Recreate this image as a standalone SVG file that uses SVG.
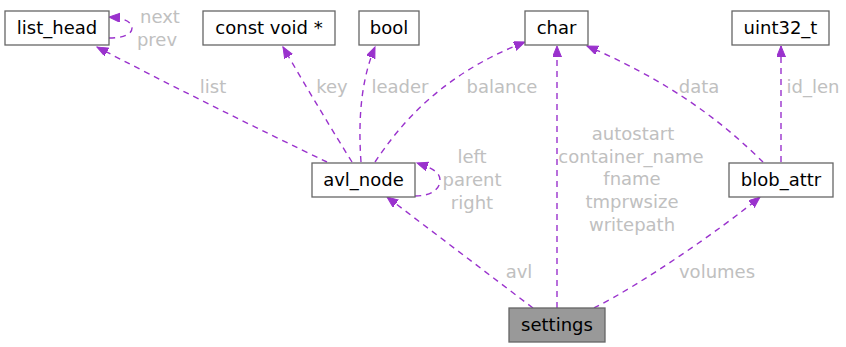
<svg xmlns="http://www.w3.org/2000/svg" width="846" height="347" viewBox="0 0 846 347">
  <style>
    .node rect { fill: #ffffff; stroke: #666666; stroke-width: 1.3; }
    .node.main rect { fill: #999999; }
    .node text { font-family: "DejaVu Sans", sans-serif; font-size: 18px; fill: #000000; text-anchor: middle; }
    .edge { fill: none; stroke: #9a32cd; stroke-width: 1.4; stroke-dasharray: 6,5; marker-end: url(#arrow); }
    .lbl { font-family: "DejaVu Sans", sans-serif; font-size: 18px; fill: #c0c0c0; text-anchor: middle; }
  </style>
  <defs>
    <marker id="arrow" markerUnits="userSpaceOnUse" markerWidth="14" markerHeight="12" refX="11" refY="4.5" orient="auto">
      <path d="M0,0 L11,4.5 L0,9 Z" fill="#9a32cd" stroke="#9a32cd" stroke-width="1"/>
    </marker>
  </defs>

  <rect width="846" height="347" fill="#ffffff"/>

  <g id="connectors">
    <!-- list_head self reference -->
    <path class="edge" d="M109,38 C122,38 132,35 132,28 C132,22 124,18 109,17"/>
    <text class="lbl" x="160" y="23">next</text>
    <text class="lbl" x="157" y="46">prev</text>

    <!-- avl_node members -->
    <path class="edge" d="M327,162 C260,130 160,80 97,47"/>
    <text class="lbl" x="213" y="93">list</text>
    <path class="edge" d="M352,162 C335,135 305,85 283,47"/>
    <text class="lbl" x="332" y="93">key</text>
    <path class="edge" d="M361,162 C358,120 361,80 375,47"/>
    <text class="lbl" x="400" y="93">leader</text>
    <path class="edge" d="M375,162 C400,125 440,75 525,42"/>
    <text class="lbl" x="502" y="93">balance</text>

    <!-- avl_node self reference -->
    <path class="edge" d="M415,196 C430,196 440,190 440,180 C440,172 432,168 417,163"/>
    <text class="lbl" x="472" y="163">left</text>
    <text class="lbl" x="472" y="186">parent</text>
    <text class="lbl" x="472" y="209">right</text>

    <!-- blob_attr members -->
    <path class="edge" d="M763,162 C740,140 690,90 587,46"/>
    <text class="lbl" x="699" y="93">data</text>
    <path class="edge" d="M781,162 L781,46"/>
    <text class="lbl" x="813" y="93">id_len</text>

    <!-- settings members -->
    <path class="edge" d="M557,308 L557,46"/>
    <text class="lbl" x="633" y="140">autostart</text>
    <text class="lbl" x="631" y="163">container_name</text>
    <text class="lbl" x="632" y="185">fname</text>
    <text class="lbl" x="632" y="208">tmprwsize</text>
    <text class="lbl" x="632" y="231">writepath</text>
    <path class="edge" d="M533,308 L387,197"/>
    <text class="lbl" x="519" y="278">avl</text>
    <path class="edge" d="M594,308 C640,285 720,230 760,197"/>
    <text class="lbl" x="717" y="278">volumes</text>
  </g>

  <g id="list_head" class="node">
    <rect x="5" y="11" width="104" height="34"/>
    <text x="57" y="34">list_head</text>
  </g>
  <g id="const_void_ptr" class="node">
    <rect x="203" y="11" width="132" height="34"/>
    <text x="269" y="34">const void *</text>
  </g>
  <g id="bool" class="node">
    <rect x="359" y="11" width="60" height="34"/>
    <text x="389" y="34">bool</text>
  </g>
  <g id="char" class="node">
    <rect x="525" y="11" width="63" height="34"/>
    <text x="556.5" y="34">char</text>
  </g>
  <g id="uint32_t" class="node">
    <rect x="732" y="11" width="97" height="34"/>
    <text x="780.5" y="34">uint32_t</text>
  </g>
  <g id="avl_node" class="node">
    <rect x="312" y="163" width="103" height="34"/>
    <text x="363.5" y="186">avl_node</text>
  </g>
  <g id="blob_attr" class="node">
    <rect x="729" y="163" width="104" height="34"/>
    <text x="781" y="186">blob_attr</text>
  </g>
  <g id="settings" class="node main">
    <rect x="509" y="308" width="96" height="34"/>
    <text x="557" y="331">settings</text>
  </g>
</svg>
